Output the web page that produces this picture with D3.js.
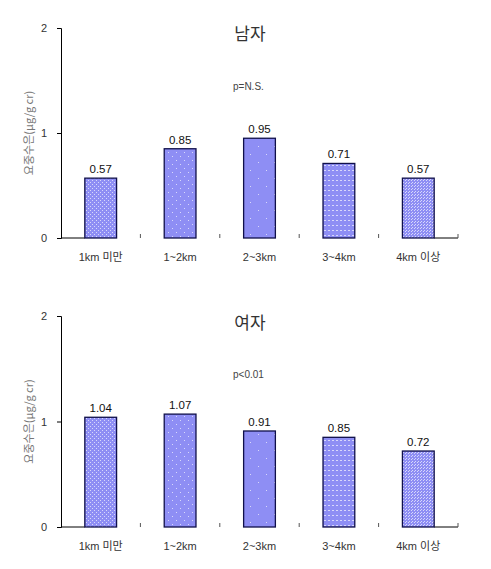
<!DOCTYPE html>
<html><head><meta charset="utf-8">
<script src="https://cdn.jsdelivr.net/npm/d3@7"></script>
<style>
html,body{margin:0;padding:0;background:#fff;}
svg{display:block;font-family:"Liberation Sans","Noto Sans CJK KR",sans-serif;}
</style></head>
<body>
<svg id="chart" width="491" height="569"></svg>
<script>
const categories = ["1km 미만", "1~2km", "2~3km", "3~4km", "4km 이상"];
const maleValues = [0.57, 0.85, 0.95, 0.71, 0.57];
const femaleValues = [1.04, 1.07, 0.91, 0.85, 0.72];
const yTicks = [0, 1, 2];
const panelTitles = ["남자", "여자"];
const pLabels = ["p=N.S.", "p<0.01"];
const yAxisTitle = "요중수은(μg/g cr)";

const svg = d3.select("#chart");
const defs = svg.append("defs");
const fillCol = "#8e8ef4";

function makePattern(id, w, h, dots) {
  const p = defs.append("pattern").attr("id", id).attr("patternUnits", "userSpaceOnUse")
    .attr("width", w).attr("height", h);
  p.append("rect").attr("width", w).attr("height", h).attr("fill", fillCol);
  dots.forEach(d => p.append("rect").attr("x", d[0]).attr("y", d[1]).attr("width", d[2] || 1).attr("height", d[3] || 1).attr("fill", "#ffffff").attr("opacity", 0.65));
}
makePattern("pat0", 4, 4, [[0,0],[2,2]]);
makePattern("pat1", 8, 8, [[0,0],[4,4]]);
makePattern("pat2", 16, 16, [[2,2],[10,10]]);
makePattern("pat3", 4, 5, [[0,0,2,1]]);
makePattern("pat4", 3, 3, [[0,0],[1,2]]);

const panels = [
  {values: maleValues, top: 28, bottom: 238, title: panelTitles[0], p: pLabels[0], titleY: 33, pY: 86},
  {values: femaleValues, top: 316, bottom: 527, title: panelTitles[1], p: pLabels[1], titleY: 322, pY: 374}
];
const xLeft = 61, xRight = 458;

panels.forEach(pn => {
  const g = svg.append("g");
  const x = d3.scaleBand().domain(categories).range([xLeft, xRight]).paddingInner(0).paddingOuter(0);
  const y = d3.scaleLinear().domain([0, 2]).range([pn.bottom, pn.top]);
  const bw = x.bandwidth() * 0.4;

  const yAxis = d3.axisLeft(y).tickValues(yTicks).tickFormat(d3.format("d")).tickSize(4).tickPadding(10);
  const ya = g.append("g").attr("transform", `translate(${xLeft},0)`).call(yAxis);
  ya.select(".domain").attr("stroke", "#000").attr("stroke-width", 1);
  ya.selectAll(".tick line").attr("stroke", "#000");
  ya.selectAll(".tick text").attr("font-size", 11).attr("fill", "#333");

  g.append("line").attr("x1", xLeft).attr("x2", x(categories[0]) + x.bandwidth()/2 - bw/2)
    .attr("y1", pn.bottom).attr("y2", pn.bottom).attr("stroke", "#000");
  g.append("line").attr("x1", x(categories[4]) + x.bandwidth()/2 + bw/2).attr("x2", xRight)
    .attr("y1", pn.bottom).attr("y2", pn.bottom).attr("stroke", "#000");
  categories.slice(1).concat(["end"]).forEach(c => {
    const xx = c === "end" ? xRight : x(c);
    g.append("line").attr("x1", xx).attr("x2", xx).attr("y1", pn.bottom - 4).attr("y2", pn.bottom)
      .attr("stroke", "#555");
  });

  g.selectAll("rect.bar").data(pn.values).enter().append("rect").attr("class", "bar")
    .attr("x", (d, i) => x(categories[i]) + x.bandwidth()/2 - bw/2)
    .attr("width", bw)
    .attr("y", d => y(d))
    .attr("height", d => pn.bottom - y(d))
    .attr("fill", (d, i) => `url(#pat${i})`)
    .attr("stroke", "#10104a").attr("stroke-width", 1.3);

  g.selectAll("text.val").data(pn.values).enter().append("text").attr("class", "val")
    .attr("x", (d, i) => x(categories[i]) + x.bandwidth()/2)
    .attr("y", d => y(d) - 5)
    .attr("text-anchor", "middle").attr("font-size", 11.5).attr("fill", "#111")
    .text(d => d.toFixed(2));

  g.selectAll("text.cat").data(categories).enter().append("text").attr("class", "cat")
    .attr("x", d => x(d) + x.bandwidth()/2)
    .attr("y", pn.bottom + 23)
    .attr("text-anchor", "middle").attr("font-size", 11).attr("fill", "#333")
    .text(d => d);

  g.append("text").attr("x", 250).attr("y", pn.titleY + 7).attr("text-anchor", "middle")
    .attr("font-size", 17).attr("font-weight", 400).attr("fill", "#333").attr("font-family", "Noto Sans CJK KR, sans-serif")
    .text(pn.title);
  g.append("text").attr("x", 233).attr("y", pn.pY + 4).attr("font-size", 10).attr("fill", "#444")
    .text(pn.p);

  g.append("text").attr("transform", `translate(33,${(pn.top + pn.bottom)/2}) rotate(-90)`)
    .attr("text-anchor", "middle").attr("font-size", 11).attr("fill", "#777")
    .attr("font-family", "Noto Sans CJK KR, sans-serif")
    .text(yAxisTitle);
});
</script>
</body></html>
